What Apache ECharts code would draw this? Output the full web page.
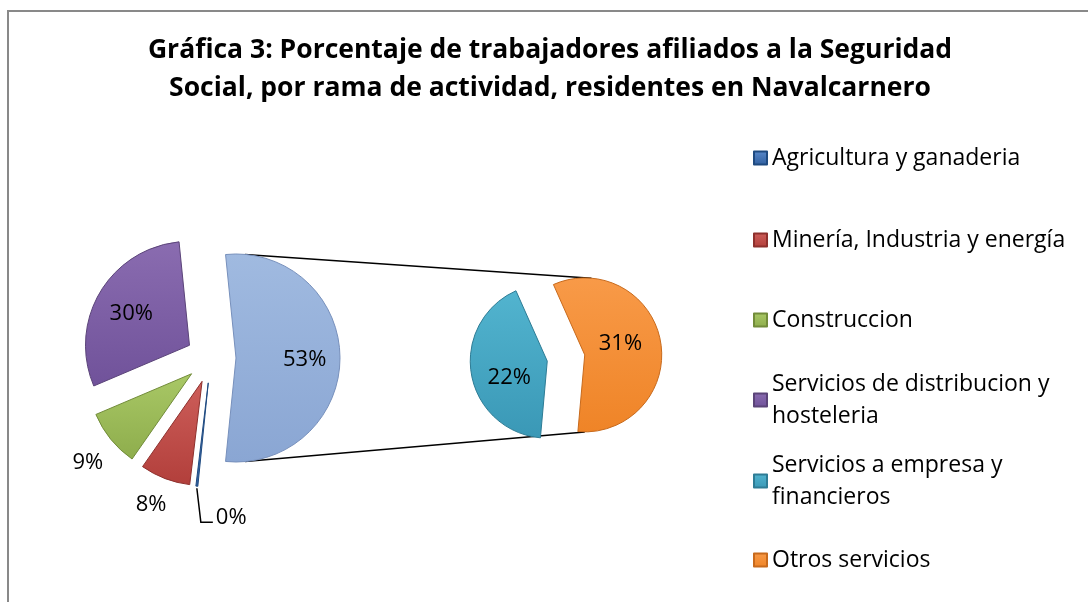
<!DOCTYPE html>
<html>
<head>
<meta charset="utf-8">
<script src="https://cdn.jsdelivr.net/npm/echarts@6/dist/echarts.min.js"></script>
<style>
  html, body { margin: 0; padding: 0; background: #fff; }
  #chart { width: 1088px; height: 602px; }
</style>
</head>
<body>
<div id="chart"></div>
<script>
// values (% of workers)
const mainNames = ['Otros', 'Agricultura y ganaderia', 'Minería, Industria y energía', 'Construccion', 'Servicios de distribucion y hosteleria'];
const mainValues = [53.2, 0.3, 7.8, 8.9, 29.8];
const subNames = ['Otros servicios', 'Servicios a empresa y financieros'];
const subValues = [30.9, 22.3];
const legendNames = ['Agricultura y ganaderia', 'Minería, Industria y energía', 'Construccion',
  'Servicios de distribucion y hosteleria', 'Servicios a empresa y financieros', 'Otros servicios'];
const legendText = ['Agricultura y ganaderia', 'Minería, Industria y energía', 'Construccion',
  'Servicios de distribucion y\nhosteleria', 'Servicios a empresa y\nfinancieros', 'Otros servicios'];

const colors = {
  'Otros': ['#A0BAE0', '#8AA6D3', '#7790BC'],
  'Agricultura y ganaderia': ['#5B8ACB', '#2F5E9E', '#1F4A80'],
  'Minería, Industria y energía': ['#CD5E5A', '#B23F3B', '#8E302D'],
  'Construccion': ['#A9C866', '#8EAD4C', '#728C3A'],
  'Servicios de distribucion y hosteleria': ['#8A6CB0', '#70529A', '#5B4479'],
  'Servicios a empresa y financieros': ['#52B4CF', '#3A98B6', '#2E7C95'],
  'Otros servicios': ['#F89A48', '#EF8427', '#C86A1C']
};

const FONT = '"Open Sans", "Noto Sans", sans-serif';
const mainOffset = 25, subOffset = 19;

// where each value label sits: fraction of the radius along the slice middle, plus a nudge
const mainLabelReach = [0.66, 1.0, 1.27, 1.31, 0.65];
const mainLabelNudge = [[0, 2], [0, 0], [-4, 0], [2, 3], [0, 3]];
const subLabelReach = [0.47, 0.5];
const subLabelNudge = [[0, -5], [0, 10]];

const chart = echarts.init(document.getElementById('chart'));

function fill(name) {
  const c = colors[name];
  return {
    type: 'linear', x: 0, y: 0, x2: 0, y2: 1,
    colorStops: [{ offset: 0, color: c[0] }, { offset: 1, color: c[1] }]
  };
}

const mainData = mainNames.map((n, i) => ({
  name: n, value: mainValues[i], selected: true,
  itemStyle: { color: fill(n), borderColor: colors[n][2], borderWidth: 1 }
}));

const subData = subNames.map((n, i) => ({
  name: n, value: subValues[i], selected: true,
  itemStyle: { color: fill(n), borderColor: colors[n][2], borderWidth: 1 }
}));

const legends = legendNames.map((n, i) => {
  const twoLines = legendText[i].indexOf('\n') >= 0;
  const firstLineY = [158, 240, 320, 400, 481, 560][i];
  return {
    data: [n],
    left: 753,
    top: firstLineY - (twoLines ? 48 : 16),
    orient: 'vertical',
    padding: 0,
    icon: 'rect',
    itemWidth: 13, itemHeight: 13,
    selectedMode: false,
    formatter: () => legendText[i],
    textStyle: {
      fontFamily: FONT, fontSize: 23, color: '#000', lineHeight: 32,
      padding: twoLines ? [32, 0, 0, 0] : 0
    }
  };
});

chart.setOption({
  animation: false,
  backgroundColor: '#fff',
  title: {
    text: 'Gráfica 3: Porcentaje de trabajadores afiliados a la Seguridad\nSocial, por rama de actividad, residentes en Navalcarnero',
    left: 550,
    textAlign: 'center',
    top: 31,
    padding: 0,
    textStyle: { fontFamily: FONT, fontSize: 26.5, fontWeight: 'bold', color: '#000', lineHeight: 38 }
  },
  legend: legends,
  graphic: [{
    id: 'frame', type: 'rect', silent: true,
    shape: { x: 8, y: 11, width: 1100, height: 620 },
    style: { fill: 'none', stroke: '#898989', lineWidth: 2 }
  }],
  series: [{
    type: 'pie',
    center: [211, 358],
    radius: 104,
    startAngle: mainValues[0] / mainValues.reduce((s, v) => s + v, 0) * 180,
    clockwise: true,
    selectedMode: 'multiple',
    selectedOffset: mainOffset,
    emphasis: { disabled: true },
    label: { show: false },
    labelLine: { show: false },
    data: mainData
  }, {
    type: 'pie',
    center: [566, 358],
    radius: 77,
    startAngle: 114,
    clockwise: true,
    selectedMode: 'multiple',
    selectedOffset: subOffset,
    emphasis: { disabled: true },
    label: { show: false },
    labelLine: { show: false },
    data: subData
  }]
});

// slice geometry as laid out by the pie series (exploded apex)
function apexOf(seriesIndex, dataIndex, offset) {
  const ly = chart.getModel().getSeriesByIndex(seriesIndex).getData().getItemLayout(dataIndex);
  const mid = (ly.startAngle + ly.endAngle) / 2;
  return { x: ly.cx + Math.cos(mid) * offset, y: ly.cy + Math.sin(mid) * offset, mid: mid, r: ly.r };
}
function edgePoint(seriesIndex, dataIndex, offset, deg) {
  const a = apexOf(seriesIndex, dataIndex, offset);
  const t = deg * Math.PI / 180;
  return [a.x + a.r * Math.cos(t), a.y + a.r * Math.sin(t)];
}

const pct = v => Math.round(v) + '%';
const extra = [];

function valueLabel(seriesIndex, dataIndex, value, offset, reach, nudge) {
  const a = apexOf(seriesIndex, dataIndex, offset);
  const k = reach * a.r;
  extra.push({
    type: 'text', silent: true, z: 10,
    x: a.x + Math.cos(a.mid) * k + nudge[0],
    y: a.y + Math.sin(a.mid) * k + nudge[1],
    style: { text: pct(value), fontFamily: FONT, fontSize: 22, fill: '#000', align: 'center', verticalAlign: 'middle' }
  });
}

mainValues.forEach((v, i) => {
  if (i === 1) {
    // the 0% slice: leader line down, then to the right
    const a = apexOf(0, i, mainOffset);
    const tx = a.x + Math.cos(a.mid) * a.r, ty = a.y + Math.sin(a.mid) * a.r;
    const p1 = [tx + 4, ty + 36];
    const p2 = [p1[0] + 12, p1[1]];
    extra.push({
      type: 'polyline', silent: true, z: 10,
      shape: { points: [[tx, ty + 2], p1, p2] },
      style: { stroke: '#000', lineWidth: 1.5, fill: null }
    });
    extra.push({
      type: 'text', silent: true, z: 10, x: p2[0] + 3, y: p2[1] - 4,
      style: { text: pct(v), fontFamily: FONT, fontSize: 22, fill: '#000', align: 'left', verticalAlign: 'middle' }
    });
  } else {
    valueLabel(0, i, v, mainOffset, mainLabelReach[i], mainLabelNudge[i]);
  }
});
subValues.forEach((v, i) => valueLabel(1, i, v, subOffset, subLabelReach[i], subLabelNudge[i]));

// connector lines from the aggregated slice to the second pie
const topA = edgePoint(0, 0, mainOffset, -85), topB = edgePoint(1, 0, subOffset, -85);
const botA = edgePoint(0, 0, mainOffset, 85), botB = edgePoint(1, 0, subOffset, 90);
extra.push(
  { type: 'line', silent: true, z: -1,
    shape: { x1: topA[0], y1: topA[1], x2: topB[0], y2: topB[1] },
    style: { stroke: '#000', lineWidth: 1.5 } },
  { type: 'line', silent: true, z: -1,
    shape: { x1: botA[0], y1: botA[1], x2: botB[0], y2: botB[1] },
    style: { stroke: '#000', lineWidth: 1.5 } }
);

chart.setOption({ graphic: extra.map((g, i) => Object.assign({ id: 'g' + i }, g)) });
</script>
</body>
</html>
